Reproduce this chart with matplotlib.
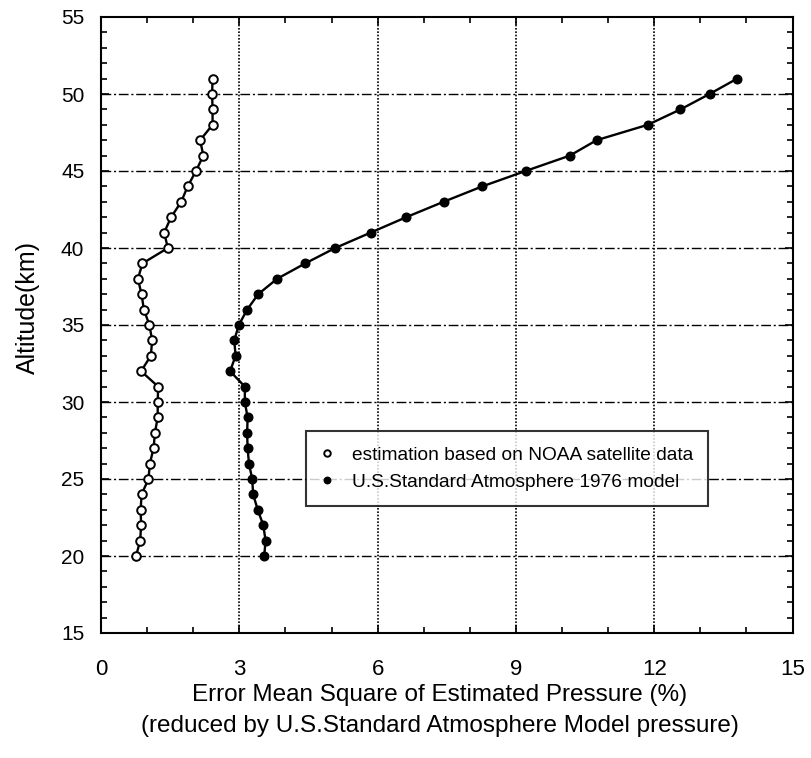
import numpy as np
import matplotlib
matplotlib.use('Agg')
import matplotlib.pyplot as plt
from matplotlib.ticker import MultipleLocator

# altitude levels (km)
altitude = list(range(20, 52))

# error of estimation based on NOAA satellite data (%), 20 km .. 51 km
noaa_error = [0.76, 0.85, 0.87, 0.86, 0.88, 1.03, 1.06, 1.14, 1.17, 1.23,
              1.23, 1.24, 0.87, 1.08, 1.11, 1.05, 0.93, 0.88, 0.80, 0.90,
              1.45, 1.37, 1.52, 1.74, 1.88, 2.06, 2.22, 2.15, 2.42, 2.42,
              2.41, 2.42]

# error of U.S. Standard Atmosphere 1976 model (%), 20 km .. 51 km
std_error = [3.54, 3.57, 3.52, 3.40, 3.30, 3.28, 3.21, 3.18, 3.17, 3.18,
             3.12, 3.12, 2.80, 2.92, 2.89, 2.99, 3.17, 3.41, 3.82, 4.43,
             5.08, 5.85, 6.62, 7.43, 8.27, 9.21, 10.17, 10.75, 11.86, 12.57,
             13.20, 13.80]

x_ticks = [0, 3, 6, 9, 12, 15]
y_ticks = [15, 20, 25, 30, 35, 40, 45, 50, 55]

plt.rcParams['font.family'] = ['Liberation Sans', 'DejaVu Sans']

fig = plt.figure(figsize=(8.11, 7.58), dpi=100)
ax = fig.add_axes([101 / 811, 125 / 758, 691.5 / 811, 616 / 758])

# grid: dash-dot horizontal, dotted vertical
for yv in y_ticks[1:-1]:
    ax.axhline(yv, color='black', lw=1.0, ls=(0, (7, 2, 1.5, 2)), zorder=1)
for xv in x_ticks[1:-1]:
    ax.axvline(xv, color='black', lw=1.2, ls=(0, (1, 1)), zorder=1)

ax.plot(noaa_error, altitude, color='black', lw=1.7, marker='o', ms=6.2,
        mfc='white', mec='black', mew=1.4, zorder=3,
        label='estimation based on NOAA satellite data')
ax.plot(std_error, altitude, color='black', lw=1.7, marker='o', ms=6.2,
        mfc='black', mec='black', zorder=3,
        label='U.S.Standard Atmosphere 1976 model')

ax.set_xlim(0, 15)
ax.set_ylim(15, 55)
ax.set_xticks(x_ticks)
ax.set_yticks(y_ticks)
ax.xaxis.set_minor_locator(MultipleLocator(1))
ax.yaxis.set_minor_locator(MultipleLocator(1))
ax.tick_params(which='both', direction='in', top=True, right=True,
               color='black', width=1.2)
ax.tick_params(which='major', length=6)
ax.tick_params(which='minor', length=4)
ax.tick_params(axis='x', which='major', pad=19, labelsize=16)
ax.tick_params(axis='y', which='major', pad=12, labelsize=15)

for sp in ax.spines.values():
    sp.set_linewidth(1.5)
    sp.set_color('black')

ax.set_ylabel('Altitude(km)', fontsize=18)
ax.yaxis.set_label_coords(-0.088, 0.529)
ax.set_xlabel('Error Mean Square of Estimated Pressure (%)\n'
              '(reduced by U.S.Standard Atmosphere Model pressure)',
              fontsize=17.5, linespacing=1.5)
ax.xaxis.set_label_coords(0.49, -0.083)

leg = ax.legend(loc='upper left', bbox_to_anchor=(0.296, 0.328),
                borderaxespad=0, fontsize=13.8, frameon=True, fancybox=False,
                handlelength=0.6, handletextpad=1.0, labelspacing=0.5,
                markerscale=0.75, borderpad=0.8)
leg.get_frame().set_edgecolor('black')
leg.get_frame().set_linewidth(1.5)
for line in leg.get_lines():
    line.set_linestyle('none')

fig.savefig('out.png', dpi=100, facecolor='white')
